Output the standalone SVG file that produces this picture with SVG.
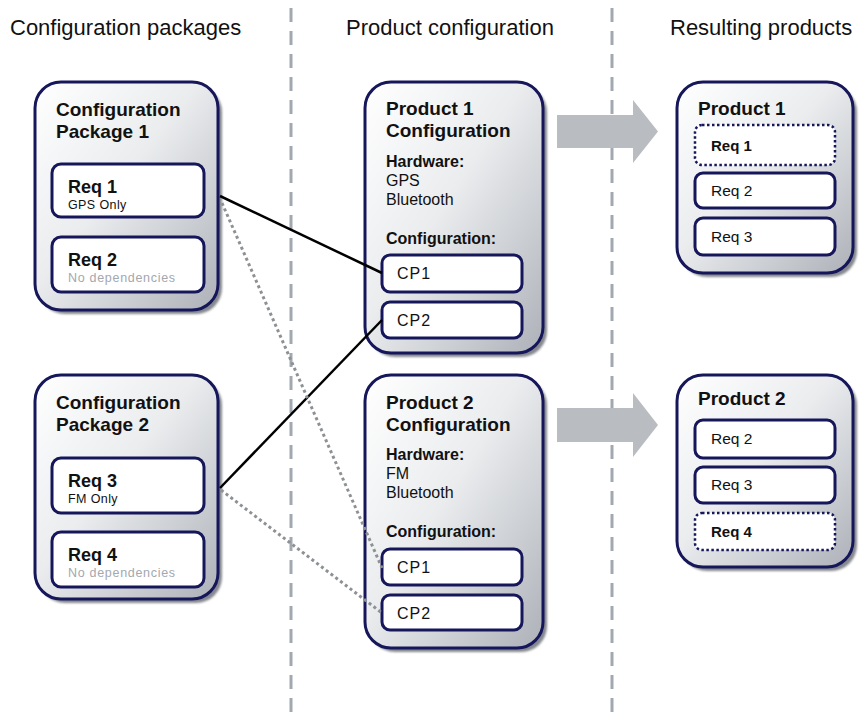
<svg xmlns="http://www.w3.org/2000/svg" width="861" height="715" viewBox="0 0 861 715">
  <defs>
    <linearGradient id="boxFill" x1="0" y1="0" x2="1" y2="1">
      <stop offset="0" stop-color="#ffffff"/>
      <stop offset="0.45" stop-color="#eaecee"/>
      <stop offset="1" stop-color="#adb1b8"/>
    </linearGradient>
    <filter id="soft" x="-10%" y="-10%" width="120%" height="120%">
      <feGaussianBlur stdDeviation="1.2"/>
    </filter>
  </defs>
  <style>
    .lane { stroke: #a2a8b0; stroke-width: 3; stroke-dasharray: 14 9; fill: none; }
    .head { font-family: "Liberation Sans", Arial, sans-serif; font-size: 22px; fill: #111; }
    .shadow { fill: #85888e; filter: url(#soft); }
    .outer { fill: url(#boxFill); stroke: #16165a; stroke-width: 3; }
    .inner { fill: #ffffff; stroke: #16165a; stroke-width: 3; }
    .dotbox { fill: #ffffff; stroke: #16165a; stroke-width: 2.5; stroke-dasharray: 2.5 2.5; }
    .title { font-family: "Liberation Sans", Arial, sans-serif; font-size: 19px; font-weight: bold; fill: #111; }
    .req { font-family: "Liberation Sans", Arial, sans-serif; font-size: 18px; font-weight: bold; fill: #111; }
    .note { font-family: "Liberation Sans", Arial, sans-serif; font-size: 12.5px; letter-spacing: 0.4px; fill: #111; }
    .nodep { font-family: "Liberation Sans", Arial, sans-serif; font-size: 12.5px; letter-spacing: 0.7px; fill: #a3a8ae; }
    .label { font-family: "Liberation Sans", Arial, sans-serif; font-size: 16px; font-weight: bold; fill: #111; }
    .body { font-family: "Liberation Sans", Arial, sans-serif; font-size: 16px; fill: #111; }
    .cp { font-family: "Liberation Sans", Arial, sans-serif; font-size: 16px; letter-spacing: 1px; fill: #111; }
    .res { font-family: "Liberation Sans", Arial, sans-serif; font-size: 15.5px; fill: #111; }
    .resb { font-family: "Liberation Sans", Arial, sans-serif; font-size: 15px; font-weight: bold; fill: #111; }
    .flow { fill: #b9bdc1; }
    .link { stroke: #000; stroke-width: 2.5; fill: none; }
    .dotlink { stroke: #8e9194; stroke-width: 3; stroke-dasharray: 3 3; fill: none; }
  </style>

  <!-- column separators -->
  <g id="lanes">
    <line class="lane" x1="291" y1="8" x2="291" y2="715"/>
    <line class="lane" x1="612" y1="8" x2="612" y2="715"/>
  </g>

  <!-- column headings -->
  <g id="headings">
    <text class="head" x="10" y="35">Configuration packages</text>
    <text class="head" x="346" y="35">Product configuration</text>
    <text class="head" x="670" y="35">Resulting products</text>
  </g>

  <!-- flow arrows -->
  <g id="flow-arrows">
    <polygon class="flow" points="557,115 633,115 633,100 658,131.5 633,163 633,148 557,148"/>
    <polygon class="flow" points="557,408 633,408 633,393 658,425 633,457 633,442 557,442"/>
  </g>

  <!-- configuration package 1 -->
  <g id="package1">
    <rect class="shadow" x="39" y="86" width="183" height="228" rx="26"/>
    <rect class="outer" x="35" y="82" width="183" height="228" rx="26"/>
    <text class="title" x="56" y="116">Configuration</text>
    <text class="title" x="56" y="138">Package 1</text>
    <rect class="inner" x="52" y="164" width="152" height="53" rx="9"/>
    <text class="req" x="68" y="193">Req 1</text>
    <text class="note" x="68" y="209">GPS Only</text>
    <rect class="inner" x="52" y="237" width="152" height="55" rx="9"/>
    <text class="req" x="68" y="266">Req 2</text>
    <text class="nodep" x="68" y="282">No dependencies</text>
  </g>

  <!-- configuration package 2 -->
  <g id="package2">
    <rect class="shadow" x="39" y="379" width="183" height="224" rx="26"/>
    <rect class="outer" x="35" y="375" width="183" height="224" rx="26"/>
    <text class="title" x="56" y="409">Configuration</text>
    <text class="title" x="56" y="431">Package 2</text>
    <rect class="inner" x="52" y="458" width="152" height="55" rx="9"/>
    <text class="req" x="68" y="487">Req 3</text>
    <text class="note" x="68" y="503">FM Only</text>
    <rect class="inner" x="52" y="532" width="152" height="55" rx="9"/>
    <text class="req" x="68" y="561">Req 4</text>
    <text class="nodep" x="68" y="577">No dependencies</text>
  </g>

  <!-- product 1 configuration -->
  <g id="product1-config">
    <rect class="shadow" x="369" y="86" width="178" height="271" rx="26"/>
    <rect class="outer" x="365" y="82" width="178" height="271" rx="26"/>
    <text class="title" x="386" y="115">Product 1</text>
    <text class="title" x="386" y="137">Configuration</text>
    <text class="label" x="386" y="167">Hardware:</text>
    <text class="body" x="386" y="186">GPS</text>
    <text class="body" x="386" y="205">Bluetooth</text>
    <text class="label" x="386" y="244">Configuration:</text>
    <rect class="inner" x="382" y="255" width="140" height="37" rx="8"/>
    <text class="cp" x="397" y="279">CP1</text>
    <rect class="inner" x="382" y="302" width="140" height="36" rx="8"/>
    <text class="cp" x="397" y="326">CP2</text>
  </g>

  <!-- product 2 configuration -->
  <g id="product2-config">
    <rect class="shadow" x="369" y="379" width="178" height="273" rx="26"/>
    <rect class="outer" x="365" y="375" width="178" height="273" rx="26"/>
    <text class="title" x="386" y="409">Product 2</text>
    <text class="title" x="386" y="431">Configuration</text>
    <text class="label" x="386" y="460">Hardware:</text>
    <text class="body" x="386" y="479">FM</text>
    <text class="body" x="386" y="498">Bluetooth</text>
    <text class="label" x="386" y="537">Configuration:</text>
    <rect class="inner" x="382" y="549" width="140" height="36" rx="8"/>
    <text class="cp" x="397" y="573">CP1</text>
    <rect class="inner" x="382" y="595" width="140" height="35" rx="8"/>
    <text class="cp" x="397" y="619">CP2</text>
  </g>

  <!-- resulting product 1 -->
  <g id="result1">
    <rect class="shadow" x="681" y="86" width="176" height="191" rx="26"/>
    <rect class="outer" x="677" y="82" width="176" height="191" rx="26"/>
    <text class="title" x="698" y="115">Product 1</text>
    <rect class="dotbox" x="695" y="125" width="140" height="40" rx="7"/>
    <text class="resb" x="711" y="151">Req 1</text>
    <rect class="inner" x="695" y="173" width="140" height="35" rx="8"/>
    <text class="res" x="711" y="196">Req 2</text>
    <rect class="inner" x="695" y="218" width="140" height="37" rx="8"/>
    <text class="res" x="711" y="242">Req 3</text>
  </g>

  <!-- resulting product 2 -->
  <g id="result2">
    <rect class="shadow" x="681" y="379" width="176" height="192" rx="26"/>
    <rect class="outer" x="677" y="375" width="176" height="192" rx="26"/>
    <text class="title" x="698" y="405">Product 2</text>
    <rect class="inner" x="695" y="420" width="140" height="38" rx="8"/>
    <text class="res" x="711" y="444">Req 2</text>
    <rect class="inner" x="695" y="467" width="140" height="36" rx="8"/>
    <text class="res" x="711" y="490">Req 3</text>
    <rect class="dotbox" x="695" y="513" width="140" height="37" rx="7"/>
    <text class="resb" x="711" y="537">Req 4</text>
  </g>

  <!-- requirement-to-package links -->
  <g id="connectors">
    <line class="link" x1="220" y1="196" x2="382" y2="273"/>
    <line class="link" x1="220" y1="488" x2="382" y2="320"/>
    <line class="dotlink" x1="222" y1="203" x2="382" y2="568"/>
    <line class="dotlink" x1="221" y1="490" x2="382" y2="613"/>
  </g>
</svg>
